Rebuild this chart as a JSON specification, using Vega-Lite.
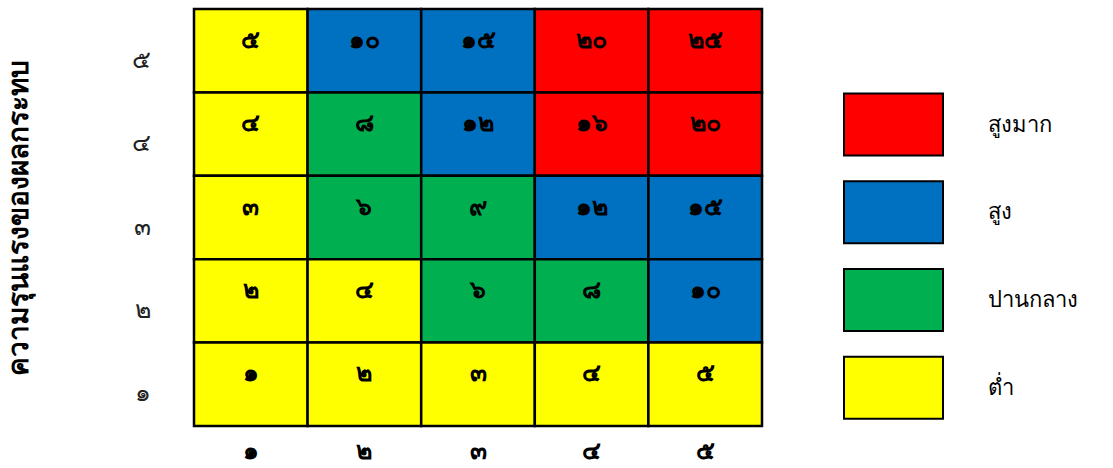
{
  "$schema": "https://vega.github.io/schema/vega-lite/v6.json",
  "padding": {"left": 5, "top": 7, "right": 5, "bottom": 0},
  "background": "white",
  "config": {"view": {"stroke": null}, "font": "Noto Sans"},
  "datasets": {
    "cells": [
      {"impact": "๕", "likelihood": "๑", "score": "๕", "level": "ต่ำ"},
      {"impact": "๕", "likelihood": "๒", "score": "๑๐", "level": "สูง"},
      {"impact": "๕", "likelihood": "๓", "score": "๑๕", "level": "สูง"},
      {"impact": "๕", "likelihood": "๔", "score": "๒๐", "level": "สูงมาก"},
      {"impact": "๕", "likelihood": "๕", "score": "๒๕", "level": "สูงมาก"},
      {"impact": "๔", "likelihood": "๑", "score": "๔", "level": "ต่ำ"},
      {"impact": "๔", "likelihood": "๒", "score": "๘", "level": "ปานกลาง"},
      {"impact": "๔", "likelihood": "๓", "score": "๑๒", "level": "สูง"},
      {"impact": "๔", "likelihood": "๔", "score": "๑๖", "level": "สูงมาก"},
      {"impact": "๔", "likelihood": "๕", "score": "๒๐", "level": "สูงมาก"},
      {"impact": "๓", "likelihood": "๑", "score": "๓", "level": "ต่ำ"},
      {"impact": "๓", "likelihood": "๒", "score": "๖", "level": "ปานกลาง"},
      {"impact": "๓", "likelihood": "๓", "score": "๙", "level": "ปานกลาง"},
      {"impact": "๓", "likelihood": "๔", "score": "๑๒", "level": "สูง"},
      {"impact": "๓", "likelihood": "๕", "score": "๑๕", "level": "สูง"},
      {"impact": "๒", "likelihood": "๑", "score": "๒", "level": "ต่ำ"},
      {"impact": "๒", "likelihood": "๒", "score": "๔", "level": "ต่ำ"},
      {"impact": "๒", "likelihood": "๓", "score": "๖", "level": "ปานกลาง"},
      {"impact": "๒", "likelihood": "๔", "score": "๘", "level": "ปานกลาง"},
      {"impact": "๒", "likelihood": "๕", "score": "๑๐", "level": "สูง"},
      {"impact": "๑", "likelihood": "๑", "score": "๑", "level": "ต่ำ"},
      {"impact": "๑", "likelihood": "๒", "score": "๒", "level": "ต่ำ"},
      {"impact": "๑", "likelihood": "๓", "score": "๓", "level": "ต่ำ"},
      {"impact": "๑", "likelihood": "๔", "score": "๔", "level": "ต่ำ"},
      {"impact": "๑", "likelihood": "๕", "score": "๕", "level": "ต่ำ"}
    ],
    "legend": [
      {"level": "สูงมาก"},
      {"level": "สูง"},
      {"level": "ปานกลาง"},
      {"level": "ต่ำ"}
    ]
  },
  "hconcat": [
    {
      "width": 568,
      "height": 417,
      "data": {"name": "cells"},
      "encoding": {
        "x": {
          "field": "likelihood",
          "type": "ordinal",
          "scale": {"domain": ["๑", "๒", "๓", "๔", "๕"], "paddingInner": 0, "paddingOuter": 0},
          "axis": {
            "title": null,
            "orient": "bottom",
            "labelAngle": 0,
            "domain": false,
            "ticks": false,
            "tickSize": 0,
            "labelPadding": 12,
            "labelFontSize": 25,
            "labelFontWeight": "bold",
            "labelColor": "black"
          }
        },
        "y": {
          "field": "impact",
          "type": "ordinal",
          "scale": {"domain": ["๕", "๔", "๓", "๒", "๑"], "paddingInner": 0, "paddingOuter": 0},
          "axis": {
            "title": "ความรุนแรงของผลกระทบ",
            "titleFontSize": 28,
            "titleFontWeight": "bold",
            "titleColor": "black",
            "titlePadding": 98,
            "domain": false,
            "ticks": false,
            "tickSize": 0,
            "labelPadding": 44,
            "labelOffset": 9,
            "labelFontSize": 25,
            "labelFontWeight": "normal",
            "labelColor": "#222222"
          }
        }
      },
      "layer": [
        {
          "mark": {"type": "rect", "stroke": "black", "strokeWidth": 2.5},
          "encoding": {
            "color": {
              "field": "level",
              "type": "nominal",
              "scale": {"domain": ["สูงมาก", "สูง", "ปานกลาง", "ต่ำ"], "range": ["#FF0000", "#0070C0", "#00B050", "#FFFF00"]},
              "legend": null
            }
          }
        },
        {
          "mark": {"type": "text", "fontSize": 25, "fontWeight": "bold", "color": "black", "dy": -11},
          "encoding": {"text": {"field": "score"}}
        }
      ]
    },
    {
      "width": 99,
      "height": 417,
      "data": {"name": "legend"},
      "mark": {"type": "rect", "stroke": "black", "strokeWidth": 2},
      "encoding": {
        "y": {
          "field": "level",
          "type": "ordinal",
          "scale": {"domain": ["สูงมาก", "สูง", "ปานกลาง", "ต่ำ"], "paddingInner": 0.293, "paddingOuter": 0.524, "align": 0.92},
          "axis": {
            "title": null,
            "orient": "right",
            "domain": false,
            "ticks": false,
            "tickSize": 0,
            "labelPadding": 44,
            "labelFontSize": 22,
            "labelColor": "black"
          }
        },
        "color": {
          "field": "level",
          "type": "nominal",
          "scale": {"domain": ["สูงมาก", "สูง", "ปานกลาง", "ต่ำ"], "range": ["#FF0000", "#0070C0", "#00B050", "#FFFF00"]},
          "legend": null
        }
      }
    }
  ],
  "spacing": 79
}
